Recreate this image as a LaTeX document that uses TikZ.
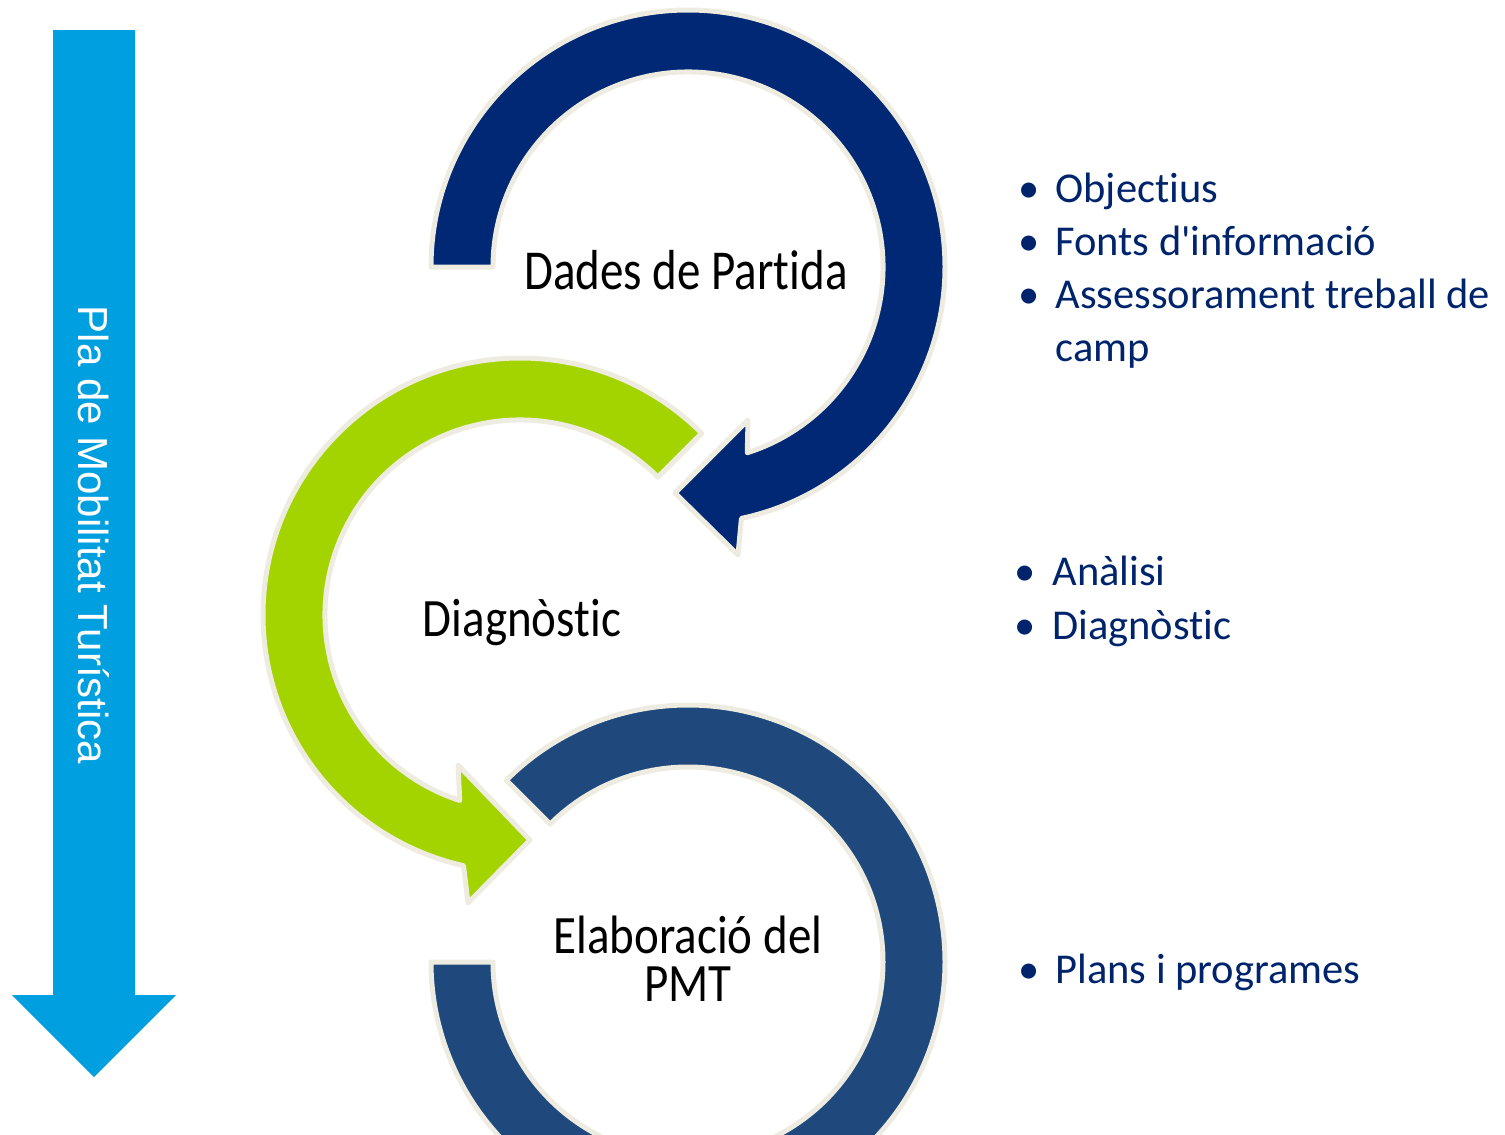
\documentclass[tikz,border=0pt]{standalone}
\usepackage{fontspec}
\setmainfont{Carlito}[Ligatures={NoCommon}]
\newfontfamily\arialfont{Liberation Sans}
\usetikzlibrary{calc}
\definecolor{navyarrow}{HTML}{002874}
\definecolor{greenarrow}{HTML}{A4D400}
\definecolor{bluering}{HTML}{1F497D}
\definecolor{lightblue}{HTML}{00A0E0}
\definecolor{creamline}{HTML}{EEECE1}
\definecolor{bulletnavy}{HTML}{00246B}
\newcommand{\tallt}[2][1.15]{\scalebox{1}[#1]{#2}}
\tikzset{
  ringshape/.style={draw=creamline, line width=2.5pt, line join=round},
  steplabel/.style={font=\fontsize{23.5}{24}\selectfont, text=black, align=center, inner sep=0pt},
  bulletdot/.style={font=\fontsize{21.25}{26}\selectfont, text=bulletnavy, anchor=base, inner sep=0pt},
  bullettext/.style={font=\fontsize{21.25}{26}\selectfont, text=bulletnavy, anchor=base west, inner sep=0pt},
}
\begin{document}
\begin{tikzpicture}[x=0.5pt,y=0.5pt]
\useasboundingbox (0,0) rectangle (1505,-1135);
\clip (0,0) rectangle (1505,-1135);
\coordinate (C1) at (688,-267);
\coordinate (C2) at (520,-615);
\coordinate (C3) at (688,-962);

% vertical arrow
\fill[lightblue] (53,-30) -- (135,-30) -- (135,-995) -- (176,-995) -- (94,-1077) -- (12,-995) -- (53,-995) -- cycle;
\node[rotate=-90, anchor=base, text=white, inner sep=0pt, font=\arialfont\fontsize{21}{24}\selectfont] (vlabel) at (78,-535) {Pla de Mobilitat Turística};

% blue ring (Elaboracio)
\path[ringshape, fill=bluering] ($(C3)+(135:257)$) arc[start angle=135, end angle=-180, radius=257]
  -- ($(C3)+(180:195)$) arc[start angle=-180, end angle=135, radius=195] -- cycle;

% green arrow (Diagnostic)
\path[ringshape, fill=greenarrow] ($(C2)+(45:195)$) -- ($(C2)+(45:257)$)
  arc[start angle=45, end angle=257.3, radius=257]
  -- (468,-903) -- (530,-840) -- (458,-765)
  -- ($(C2)+(252:195)$) arc[start angle=252, end angle=45, radius=195] -- cycle;

% navy arrow (Dades de Partida)
\path[ringshape, fill=navyarrow] ($(C1)+(180:195)$) -- ($(C1)+(180:257)$)
  arc[start angle=180, end angle=-78, radius=257]
  -- (738,-555) -- (675,-493) -- (748,-420)
  -- ($(C1)+(-72.3:195)$) arc[start angle=-72.3, end angle=180, radius=195] -- cycle;

% labels
\node[steplabel, anchor=base] (dades) at (686,-289) {\tallt[1.2]{Dades de Partida}};
\node[steplabel, anchor=base] (diag) at (522,-636) {\tallt{Diagnòstic}};
\node[steplabel, anchor=center] (elab) at (688,-959) {\tallt{Elaboració del}\\\tallt{PMT}};

% bullets
\node[bulletdot] (b1) at (1029,-202) {•};
\node[bullettext] (t1) at (1055,-202) {Objectius};
\node[bulletdot] (b2) at (1029,-255) {•};
\node[bullettext] (t2) at (1055,-255) {Fonts d\textquotesingle informació};
\node[bulletdot] (b3) at (1029,-308) {•};
\node[bullettext] (t3) at (1055,-308) {Assessorament treball de};
\node[bullettext] (t3b) at (1055,-361) {camp};

\node[bulletdot] (b4) at (1025,-585) {•};
\node[bullettext] (t4) at (1052,-585) {Anàlisi};
\node[bulletdot] (b5) at (1025,-639) {•};
\node[bullettext] (t5) at (1052,-639) {Diagnòstic};

\node[bulletdot] (b6) at (1029,-983) {•};
\node[bullettext] (t6) at (1055,-983) {Plans i programes};
\end{tikzpicture}
\end{document}
